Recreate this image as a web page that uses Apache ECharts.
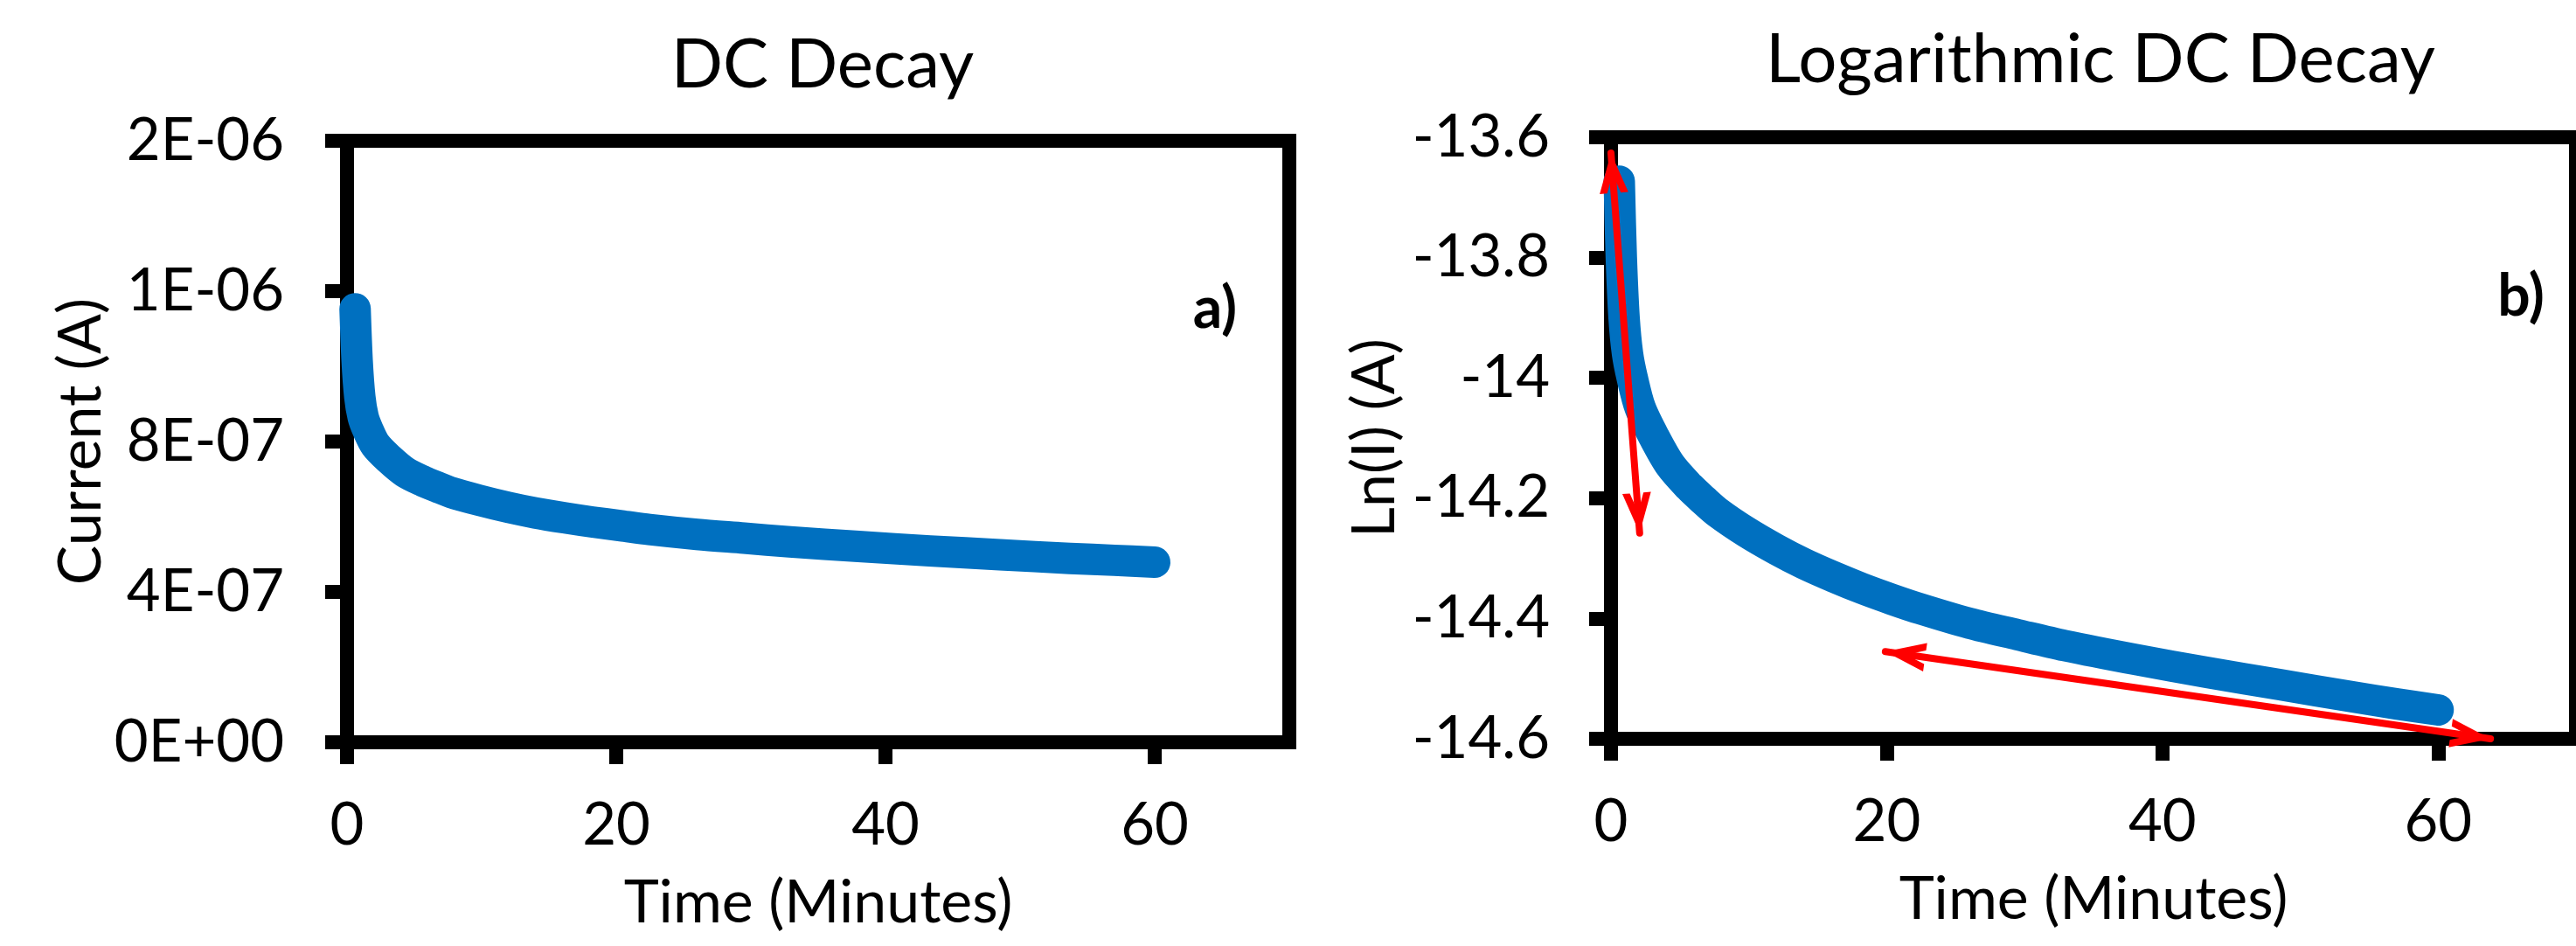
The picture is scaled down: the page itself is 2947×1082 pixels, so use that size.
<!DOCTYPE html>
<html>
<head>
<meta charset="utf-8">
<script src="https://cdn.jsdelivr.net/npm/echarts@6/dist/echarts.min.js"></script>
<style>
  html, body { margin: 0; padding: 0; background: #fff; }
  #chart { width: 2947px; height: 1082px; }
</style>
</head>
<body>
<div id="chart"></div>
<script>
// readings
const timeMin = [0.6, 0.75, 0.95, 1.2, 1.54, 2.12, 3.12, 4.3, 5.68, 6.7, 7.78, 9.8, 11.97, 14,
  16.16, 18.2, 20.36, 22.45, 26, 29.5, 32.9, 38, 43.3, 48.5, 53.7, 57, 60];
const currentA = [1.153e-6, 1.016e-6, 9.19e-7, 8.65e-7, 8.32e-7, 7.91e-7, 7.54e-7, 7.19e-7,
  6.94e-7, 6.79e-7, 6.64e-7, 6.44e-7, 6.25e-7, 6.10e-7, 5.97e-7, 5.86e-7, 5.76e-7,
  5.66e-7, 5.53e-7, 5.43e-7, 5.33e-7, 5.21e-7, 5.09e-7, 4.99e-7, 4.89e-7, 4.84e-7, 4.79e-7];
const lnCurrent = [-13.673, -13.80, -13.90, -13.96, -14.00, -14.05, -14.098, -14.145, -14.181,
  -14.203, -14.2245, -14.256, -14.285, -14.309, -14.331, -14.35, -14.368, -14.384, -14.408,
  -14.427, -14.445, -14.468, -14.49, -14.51, -14.53, -14.542, -14.552];

// axis ticks and their labels
const timeTicks = [0, 20, 40, 60];
const currentTicks = [0, 4e-7, 8e-7, 1.2e-6, 1.6e-6];
const currentTickLabels = ['0E+00', '4E-07', '8E-07', '1E-06', '2E-06'];
const lnTicks = [-14.6, -14.4, -14.2, -14, -13.8, -13.6];
const lnTickLabels = ['-14.6', '-14.4', '-14.2', '-14', '-13.8', '-13.6'];

// red double arrows on the log plot: [from, to] in data units
const arrowEnds = [
  [[0, -13.626], [2.08, -14.258]],
  [[19.9, -14.455], [63.8, -14.6]]
];

const FONT = 'Lato, "Open Sans", sans-serif';
// open V head, tip in the middle of its box so it sits on the line end
const chevron = 'path://M17,0 L17.01,0 L17,0.01 Z M17,46 L33.4,92 L24.8,92 L17,70 L9.2,92 L0.6,92 Z';

function pickLabel(ticks, labels) {
  return function (v) {
    for (let i = 0; i < ticks.length; i++) {
      if (Math.abs(ticks[i] - v) <= 1e-6 * Math.max(Math.abs(ticks[i]), 1e-9)) return labels[i];
    }
    return '';
  };
}

function xAxisFor(grid) {
  return {
    gridIndex: grid,
    type: 'value',
    min: 0,
    max: 70,
    interval: 10,
    name: 'Time (Minutes)',
    nameLocation: 'middle',
    nameGap: 150,
    nameTextStyle: { fontSize: 68, fontFamily: FONT, color: '#000' },
    axisLine: { show: false },
    axisTick: { show: true, length: 25, customValues: timeTicks, lineStyle: { color: '#000', width: 16 } },
    axisLabel: { fontSize: 67, fontFamily: FONT, color: '#000', margin: 62, customValues: timeTicks },
    splitLine: { show: false }
  };
}

function decayLine(xi, values) {
  return {
    type: 'line',
    xAxisIndex: xi,
    yAxisIndex: xi,
    data: timeMin.map((t, i) => [t, values[i]]),
    showSymbol: false,
    smooth: 0.3,
    clip: false,
    lineStyle: { color: '#0070C0', width: 36, cap: 'round', join: 'round' }
  };
}

const chart = echarts.init(document.getElementById('chart'));
const lnSeries = decayLine(1, lnCurrent);
lnSeries.markLine = {
  silent: true,
  symbol: [chevron, chevron],
  symbolSize: [32.8, 92],
  label: { show: false },
  lineStyle: { color: '#FF0000', width: 8, type: 'solid', cap: 'round' },
  emphasis: { disabled: true },
  data: arrowEnds.map(a => [{ coord: a[0] }, { coord: a[1] }])
};

chart.setOption({
  animation: false,
  backgroundColor: '#fff',
  title: [
    { text: 'DC Decay', left: 936, top: 70, textAlign: 'center', textVerticalAlign: 'middle',
      textStyle: { fontSize: 78, fontWeight: 'normal', fontFamily: FONT, color: '#000' } },
    { text: 'Logarithmic DC Decay', left: 2398, top: 64, textAlign: 'center', textVerticalAlign: 'middle',
      textStyle: { fontSize: 78, fontWeight: 'normal', fontFamily: FONT, color: '#000' } },
    { text: 'a)', left: 1385, top: 349, textAlign: 'center', textVerticalAlign: 'middle',
      textStyle: { fontSize: 66, fontWeight: 'bold', fontFamily: FONT, color: '#000' } },
    { text: 'b)', left: 2879, top: 335, textAlign: 'center', textVerticalAlign: 'middle',
      textStyle: { fontSize: 66, fontWeight: 'bold', fontFamily: FONT, color: '#000' } }
  ],
  grid: [
    { left: 397, top: 161, width: 1078, height: 688, show: true, borderColor: '#000', borderWidth: 16, backgroundColor: 'transparent' },
    { left: 1843, top: 157, width: 1113, height: 688, show: true, borderColor: '#000', borderWidth: 16, backgroundColor: 'transparent' }
  ],
  xAxis: [xAxisFor(0), xAxisFor(1)],
  yAxis: [
    {
      gridIndex: 0,
      type: 'value',
      min: 0,
      max: 1.6e-6,
      interval: 4e-7,
      name: 'Current (A)',
      nameLocation: 'middle',
      nameGap: 268,
      nameTextStyle: { fontSize: 68, fontFamily: FONT, color: '#000' },
      axisLine: { show: false },
      axisTick: { show: true, length: 25, customValues: currentTicks, lineStyle: { color: '#000', width: 16 } },
      axisLabel: { fontSize: 67, fontFamily: FONT, color: '#000', margin: 72, customValues: currentTicks,
        formatter: pickLabel(currentTicks, currentTickLabels) },
      splitLine: { show: false }
    },
    {
      gridIndex: 1,
      type: 'value',
      min: -14.6,
      max: -13.6,
      interval: 0.2,
      name: 'Ln(I) (A)',
      nameLocation: 'middle',
      nameGap: 236,
      nameTextStyle: { fontSize: 68, fontFamily: FONT, color: '#000' },
      axisLine: { show: false },
      axisTick: { show: true, length: 25, customValues: lnTicks, lineStyle: { color: '#000', width: 16 } },
      axisLabel: { fontSize: 67, fontFamily: FONT, color: '#000', margin: 70, customValues: lnTicks,
        formatter: pickLabel(lnTicks, lnTickLabels) },
      splitLine: { show: false }
    }
  ],
  series: [decayLine(0, currentA), lnSeries]
});
</script>
</body>
</html>
